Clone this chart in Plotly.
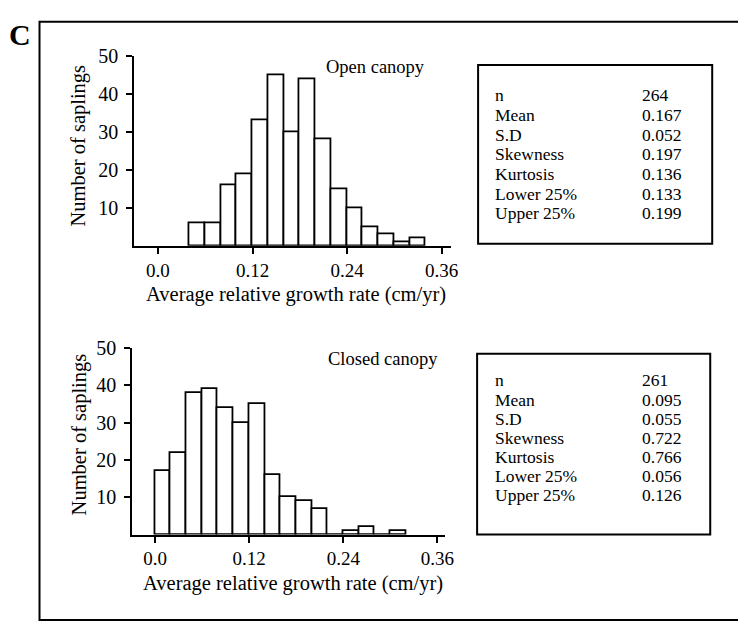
import plotly.graph_objects as go

W, H = 738, 622
BIN = 0.02
SERIF = "Liberation Serif, Times New Roman, serif"

# Histogram bins (left edges) and sapling counts
open_bin_left = [0.04, 0.06, 0.08, 0.10, 0.12, 0.14, 0.16, 0.18, 0.20, 0.22, 0.24, 0.26, 0.28, 0.30, 0.32]
open_counts = [6, 6, 16, 19, 33, 45, 30, 44, 28, 15, 10, 5, 3, 1, 2]

closed_bin_left = [0.00, 0.02, 0.04, 0.06, 0.08, 0.10, 0.12, 0.14, 0.16, 0.18, 0.20, 0.22, 0.24, 0.26, 0.28, 0.30]
closed_counts = [17, 22, 38, 39, 34, 30, 35, 16, 10, 9, 7, 0, 1, 2, 0, 1]

# Summary statistics
stat_names = ["n", "Mean", "S.D", "Skewness", "Kurtosis", "Lower 25%", "Upper 25%"]
open_stats = ["264", "0.167", "0.052", "0.197", "0.136", "0.133", "0.199"]
closed_stats = ["261", "0.095", "0.055", "0.722", "0.766", "0.056", "0.126"]

x_tick_vals = [0.0, 0.12, 0.24, 0.36]
x_tick_text = ["0.0", "0.12", "0.24", "0.36"]
y_tick_vals = [10, 20, 30, 40, 50]

x_title = "Average relative growth rate (cm/yr)"
y_title = "Number of saplings"


def px(x):
    return x / W


def py(y):
    return 1 - y / H


fig = go.Figure()

bar_style = dict(color="white", line=dict(color="black", width=1.8))
fig.add_trace(go.Bar(x=open_bin_left, y=open_counts, offset=0, width=BIN,
                     marker=bar_style, xaxis="x", yaxis="y", showlegend=False))
fig.add_trace(go.Bar(x=closed_bin_left, y=closed_counts, offset=0, width=BIN,
                     marker=bar_style, xaxis="x2", yaxis="y2", showlegend=False))

tick_font = dict(family=SERIF, size=19, color="black")


def x_axis(domain, rng, anchor):
    return dict(domain=domain, range=rng, anchor=anchor, showline=True,
                linecolor="black", linewidth=2, ticks="outside", ticklen=6,
                tickwidth=2, tickcolor="black", tickvals=x_tick_vals,
                ticktext=x_tick_text, tickfont=tick_font, showgrid=False,
                zeroline=False)


def x_axis_inner(over, rng, anchor):
    return dict(overlaying=over, range=rng, anchor=anchor, showline=False,
                ticks="inside", ticklen=6, tickwidth=2, tickcolor="black",
                tickvals=x_tick_vals, showticklabels=False, showgrid=False,
                zeroline=False)


def y_axis(domain, anchor):
    return dict(domain=domain, range=[0, 50], anchor=anchor, showline=True,
                linecolor="black", linewidth=2, ticks="outside", ticklen=6,
                tickwidth=2, tickcolor="black", tickvals=y_tick_vals,
                tickfont=dict(family=SERIF, size=20, color="black"),
                ticklabelstandoff=4, showgrid=False, zeroline=False)


def y_axis_inner(over, anchor):
    return dict(overlaying=over, range=[0, 50], anchor=anchor, showline=False,
                ticks="inside", ticklen=6, tickwidth=2, tickcolor="black",
                tickvals=y_tick_vals, showticklabels=False, showgrid=False,
                zeroline=False)


top_xr = [-0.030, 0.3725]
bot_xr = [-0.029, 0.369]

fig.update_layout(
    width=W, height=H,
    margin=dict(l=0, r=0, t=0, b=0),
    paper_bgcolor="white", plot_bgcolor="white",
    bargap=0,
    font=dict(family=SERIF, color="black"),
    xaxis=x_axis([px(136), px(457)], top_xr, "y"),
    yaxis=y_axis([py(239), py(46)], "x"),
    xaxis2=x_axis([px(134), px(450)], bot_xr, "y2"),
    yaxis2=y_axis([py(533), py(343)], "x2"),
    xaxis3=x_axis_inner("x", top_xr, "y"),
    yaxis3=y_axis_inner("y", "x"),
    xaxis4=x_axis_inner("x2", bot_xr, "y2"),
    yaxis4=y_axis_inner("y2", "x2"),
)

shapes = [
    # outer frame of the panel
    dict(type="rect", xref="paper", yref="paper", x0=px(40), x1=px(760),
         y0=py(620), y1=py(11), line=dict(color="black", width=2)),
    # statistics boxes
    dict(type="rect", xref="paper", yref="paper", x0=px(484), x1=px(721),
         y0=py(237), y1=py(55), line=dict(color="black", width=2)),
    dict(type="rect", xref="paper", yref="paper", x0=px(483), x1=px(719),
         y0=py(533), y1=py(349), line=dict(color="black", width=2)),
]
fig.update_layout(shapes=shapes)

ann = []


def text(x, y, s, size, xanchor="center", angle=0, bold=False):
    ann.append(dict(x=px(x), y=py(y), xref="paper", yref="paper", text=s,
                    showarrow=False, xanchor=xanchor, yanchor="middle",
                    textangle=angle,
                    font=dict(family=SERIF, size=size, color="black",
                              weight="bold" if bold else "normal")))


text(20, 24, "C", 30, bold=True)

# panel titles
text(380, 57, "Open canopy", 18.5)
text(388, 354, "Closed canopy", 18.5)

# axis titles
text(300, 289, x_title, 20.5)
text(297, 583, x_title, 20.5)
text(80, 137, y_title, 20.5, angle=-90)
text(80, 431, y_title, 20.5, angle=-90)

# statistics tables
for i, (name, v1, v2) in enumerate(zip(stat_names, open_stats, closed_stats)):
    y_top = 86 + i * 20
    y_bot = 376 + i * 19.5
    text(499, y_top, name, 17.5, xanchor="left")
    text(648, y_top, v1, 17.5, xanchor="left")
    text(499, y_bot, name, 17.5, xanchor="left")
    text(648, y_bot, v2, 17.5, xanchor="left")

fig.update_layout(annotations=ann)

fig.write_html("out.html")
